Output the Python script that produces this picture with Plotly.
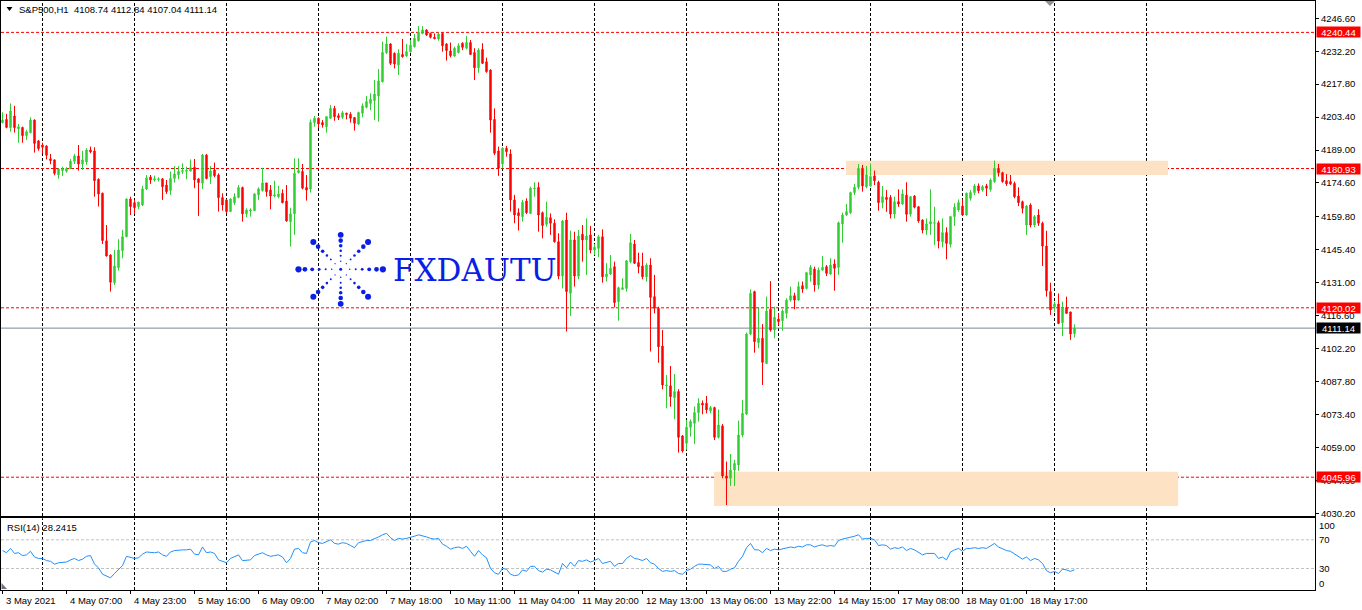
import math
import plotly.graph_objects as go

# ---------------- data ----------------
opens = [
    4201.0, 4202.4, 4198.8, 4203.9, 4198.3, 4198.9, 4195.3, 4196.6, 4202.1, 4193.0,
    4191.2, 4190.8, 4185.2, 4184.7, 4178.2, 4180.0, 4179.7, 4180.9, 4184.1, 4186.4,
    4182.9, 4183.8, 4189.0, 4188.6, 4176.2, 4170.1, 4149.3, 4143.1, 4131.0, 4137.6,
    4145.0, 4151.1, 4167.6, 4166.0, 4164.3, 4165.0, 4172.0, 4177.2, 4175.9, 4176.1,
    4176.4, 4173.7, 4171.3, 4176.6, 4178.2, 4179.6, 4179.7, 4179.8, 4181.5, 4176.4,
    4174.5, 4186.8, 4177.4, 4180.3, 4178.1, 4168.2, 4167.2, 4162.1, 4166.0, 4168.3,
    4172.6, 4161.1, 4162.4, 4162.5, 4169.4, 4171.3, 4174.6, 4171.5, 4168.9, 4168.6,
    4170.1, 4166.7, 4157.7, 4161.1, 4179.1, 4179.6, 4172.6, 4172.0, 4201.0, 4202.9,
    4201.0, 4199.2, 4202.9, 4207.2, 4204.0, 4203.3, 4205.1, 4204.6, 4203.2, 4200.4,
    4205.1, 4207.7, 4209.4, 4210.6, 4212.6, 4218.9, 4231.6, 4235.4, 4231.3, 4226.2,
    4230.8, 4230.1, 4232.0, 4234.2, 4236.8, 4240.0, 4241.5, 4240.0, 4238.3, 4237.6,
    4240.0, 4235.4, 4232.3, 4230.1, 4231.6, 4235.7, 4233.5, 4236.0, 4231.6, 4225.0,
    4233.0, 4227.6, 4224.0, 4202.4, 4188.6, 4182.9, 4189.8, 4187.3, 4167.2, 4161.6,
    4159.9, 4166.7, 4161.3, 4172.0, 4172.7, 4161.6, 4156.5, 4159.4, 4157.0, 4148.9,
    4133.9, 4158.4, 4126.4, 4149.7, 4133.9, 4152.2, 4149.7, 4151.9, 4145.3, 4146.0,
    4151.1, 4133.6, 4134.8, 4138.0, 4122.7, 4128.1, 4128.5, 4140.2, 4147.9, 4139.8,
    4138.3, 4133.6, 4138.7, 4124.9, 4119.8, 4103.3, 4085.9, 4085.9, 4080.7, 4083.4,
    4064.0, 4060.8, 4067.8, 4069.5, 4074.2, 4078.3, 4078.3, 4075.0, 4076.4, 4063.4,
    4068.4, 4046.5, 4045.5, 4049.1, 4051.3, 4064.4, 4073.6, 4108.6, 4127.1, 4104.8,
    4106.7, 4095.7, 4119.4, 4110.3, 4115.1, 4114.4, 4117.6, 4123.4, 4125.3, 4123.4,
    4129.7, 4128.5, 4134.4, 4137.0, 4130.0, 4136.5, 4138.0, 4134.8, 4139.2, 4137.7,
    4156.7, 4160.6, 4161.6, 4170.4, 4172.7, 4181.0, 4173.0, 4173.3, 4177.7, 4174.9,
    4166.0, 4168.3, 4168.3, 4161.0, 4166.4, 4165.4, 4169.3, 4161.0, 4168.9, 4164.2,
    4158.4, 4154.0, 4156.7, 4157.0, 4157.2, 4148.9, 4152.9, 4147.8, 4159.9, 4162.8,
    4164.5, 4160.6, 4167.9, 4170.4, 4173.3, 4171.5, 4173.3, 4171.8, 4175.2, 4181.0,
    4179.1, 4175.6, 4175.2, 4174.4, 4168.9, 4166.4, 4156.2, 4165.0, 4156.2, 4160.6,
    4157.0, 4147.0, 4127.1, 4120.5, 4121.7, 4113.5, 4120.2, 4118.2, 4108.74,
]
highs = [
    4205.5, 4204.8, 4209.4, 4208.3, 4200.4, 4199.2, 4197.8, 4203.3, 4202.4, 4193.4,
    4192.2, 4191.1, 4187.3, 4184.7, 4181.0, 4181.7, 4181.5, 4185.1, 4187.3, 4191.2,
    4188.7, 4189.8, 4190.5, 4190.2, 4176.6, 4170.4, 4156.2, 4143.4, 4145.3, 4150.0,
    4154.1, 4167.9, 4168.6, 4167.2, 4166.4, 4173.3, 4178.1, 4178.1, 4177.8, 4177.1,
    4176.8, 4175.9, 4179.6, 4182.0, 4182.0, 4183.2, 4181.7, 4184.9, 4185.1, 4176.6,
    4187.3, 4187.3, 4182.0, 4183.5, 4178.8, 4170.1, 4167.6, 4167.9, 4170.1, 4173.7,
    4173.0, 4163.5, 4163.5, 4170.1, 4172.7, 4181.3, 4174.6, 4173.7, 4175.6, 4173.3,
    4171.8, 4173.7, 4163.8, 4185.4, 4185.4, 4182.9, 4178.1, 4202.4, 4203.9, 4203.3,
    4202.1, 4203.9, 4208.7, 4208.3, 4205.1, 4206.1, 4205.3, 4205.5, 4203.2, 4205.8,
    4209.4, 4212.6, 4213.8, 4219.6, 4224.4, 4236.4, 4238.6, 4235.7, 4231.7, 4233.0,
    4237.6, 4235.4, 4237.1, 4239.7, 4243.2, 4243.2, 4241.8, 4240.3, 4240.0, 4240.3,
    4240.3, 4235.7, 4236.0, 4234.2, 4235.7, 4236.1, 4238.9, 4237.1, 4233.5, 4233.5,
    4235.7, 4229.4, 4224.3, 4207.2, 4190.5, 4190.2, 4190.8, 4189.3, 4169.4, 4163.5,
    4167.2, 4167.9, 4173.0, 4174.9, 4174.9, 4162.1, 4166.4, 4161.3, 4158.7, 4152.6,
    4158.4, 4161.6, 4153.8, 4153.3, 4154.0, 4156.2, 4159.1, 4155.8, 4147.9, 4151.9,
    4154.3, 4139.5, 4143.1, 4140.2, 4129.3, 4132.9, 4140.9, 4152.3, 4149.7, 4144.1,
    4144.1, 4139.5, 4141.7, 4134.4, 4120.5, 4110.3, 4090.6, 4094.6, 4091.1, 4084.4,
    4064.4, 4071.0, 4071.3, 4076.8, 4080.5, 4079.5, 4081.5, 4077.1, 4076.8, 4075.6,
    4069.2, 4052.8, 4056.1, 4053.5, 4070.7, 4079.7, 4109.2, 4128.1, 4127.5, 4120.2,
    4112.9, 4124.9, 4131.7, 4120.5, 4117.6, 4119.4, 4124.2, 4129.3, 4126.6, 4131.5,
    4131.5, 4135.8, 4138.7, 4138.0, 4137.7, 4142.7, 4138.7, 4141.7, 4141.2, 4157.7,
    4161.6, 4165.4, 4170.8, 4174.2, 4182.9, 4182.5, 4182.0, 4183.2, 4180.0, 4175.6,
    4173.3, 4171.5, 4169.3, 4168.6, 4171.8, 4171.8, 4174.9, 4168.9, 4169.3, 4164.5,
    4158.7, 4159.1, 4171.8, 4164.2, 4158.1, 4159.1, 4155.2, 4160.2, 4165.7, 4167.4,
    4167.4, 4170.4, 4171.5, 4174.2, 4174.4, 4173.7, 4174.2, 4176.6, 4184.4, 4182.9,
    4179.5, 4178.5, 4178.1, 4175.2, 4172.7, 4166.9, 4165.0, 4165.7, 4160.6, 4163.1,
    4157.7, 4153.7, 4131.0, 4122.7, 4126.3, 4122.7, 4124.9, 4118.3, 4112.84,
]
lows = [
    4200.7, 4198.5, 4197.0, 4196.6, 4192.2, 4192.2, 4193.4, 4196.3, 4187.9, 4188.7,
    4187.6, 4184.9, 4182.8, 4178.0, 4176.5, 4177.7, 4179.1, 4180.6, 4182.9, 4180.0,
    4180.3, 4182.5, 4187.6, 4168.6, 4164.3, 4147.9, 4142.4, 4127.1, 4130.0, 4136.3,
    4141.7, 4150.9, 4160.6, 4161.1, 4163.1, 4164.5, 4171.5, 4174.2, 4175.2, 4175.2,
    4167.2, 4169.8, 4169.4, 4174.8, 4176.2, 4178.5, 4176.2, 4179.6, 4172.3, 4160.2,
    4172.0, 4176.2, 4174.2, 4177.1, 4162.1, 4162.5, 4161.3, 4161.9, 4165.0, 4167.9,
    4157.7, 4159.6, 4159.9, 4162.4, 4167.2, 4170.8, 4168.6, 4163.1, 4168.3, 4167.9,
    4165.7, 4157.7, 4146.8, 4151.9, 4178.8, 4171.8, 4166.9, 4170.4, 4199.2, 4198.5,
    4198.8, 4196.6, 4202.6, 4201.8, 4202.1, 4202.6, 4202.4, 4201.0, 4197.5, 4199.9,
    4203.3, 4207.2, 4206.5, 4202.1, 4201.4, 4218.5, 4231.0, 4226.2, 4224.7, 4221.8,
    4229.4, 4229.8, 4231.6, 4233.8, 4236.4, 4239.6, 4238.9, 4237.8, 4237.4, 4236.8,
    4232.0, 4228.1, 4229.5, 4229.8, 4231.3, 4232.7, 4233.0, 4230.6, 4219.6, 4222.8,
    4226.6, 4222.8, 4196.6, 4186.8, 4177.7, 4181.0, 4186.1, 4162.1, 4157.0, 4153.8,
    4157.7, 4161.0, 4161.0, 4168.6, 4153.3, 4150.4, 4155.5, 4151.9, 4148.5, 4132.5,
    4128.5, 4109.6, 4116.5, 4129.3, 4132.5, 4140.2, 4134.4, 4143.8, 4143.1, 4142.1,
    4131.0, 4131.5, 4134.4, 4120.2, 4114.4, 4127.8, 4127.1, 4139.5, 4139.2, 4135.1,
    4132.5, 4131.5, 4100.9, 4117.6, 4096.0, 4084.4, 4076.1, 4076.8, 4071.3, 4056.7,
    4056.7, 4057.9, 4063.7, 4060.5, 4070.3, 4073.5, 4073.9, 4073.9, 4062.2, 4062.9,
    4045.5, 4033.8, 4042.1, 4042.1, 4048.8, 4063.4, 4073.2, 4108.1, 4100.4, 4102.3,
    4086.3, 4095.5, 4109.6, 4106.7, 4112.5, 4110.0, 4115.4, 4122.7, 4119.4, 4123.1,
    4126.6, 4128.1, 4131.5, 4127.1, 4128.1, 4136.3, 4133.9, 4134.4, 4127.5, 4134.4,
    4148.5, 4160.2, 4161.0, 4169.3, 4171.8, 4170.8, 4172.3, 4173.0, 4173.7, 4162.5,
    4163.5, 4162.0, 4159.1, 4159.1, 4164.2, 4165.0, 4157.7, 4159.9, 4163.5, 4157.2,
    4152.6, 4151.9, 4151.9, 4147.5, 4146.0, 4146.4, 4141.2, 4146.4, 4155.8, 4162.0,
    4160.3, 4160.3, 4166.9, 4169.3, 4170.1, 4170.8, 4168.9, 4170.8, 4174.7, 4177.4,
    4174.7, 4173.3, 4173.7, 4167.9, 4164.5, 4161.3, 4151.9, 4155.2, 4155.2, 4155.8,
    4138.3, 4124.9, 4116.9, 4118.3, 4112.9, 4107.7, 4117.3, 4106.0, 4107.04,
]
closes = [
    4202.1, 4198.9, 4206.1, 4198.8, 4199.2, 4195.3, 4197.0, 4202.1, 4191.9, 4189.6,
    4190.2, 4186.7, 4184.4, 4178.8, 4180.7, 4180.9, 4180.9, 4184.1, 4186.4, 4182.9,
    4184.7, 4189.0, 4188.2, 4175.6, 4169.8, 4149.4, 4142.7, 4131.2, 4138.3, 4145.3,
    4151.1, 4167.6, 4164.3, 4163.8, 4166.2, 4172.0, 4176.8, 4175.9, 4176.4, 4176.4,
    4173.0, 4170.8, 4176.6, 4178.5, 4179.6, 4180.0, 4180.1, 4181.3, 4175.9, 4174.8,
    4186.8, 4176.6, 4179.8, 4177.8, 4168.2, 4165.0, 4162.1, 4167.6, 4168.6, 4172.6,
    4161.1, 4162.8, 4162.8, 4169.8, 4172.0, 4174.6, 4170.8, 4168.9, 4169.4, 4169.8,
    4166.0, 4158.0, 4161.1, 4178.8, 4180.0, 4172.3, 4171.5, 4201.1, 4202.9, 4200.4,
    4200.0, 4203.6, 4207.2, 4203.6, 4203.2, 4205.3, 4204.5, 4202.9, 4200.7, 4205.4,
    4208.3, 4210.2, 4211.2, 4213.5, 4219.2, 4231.7, 4235.4, 4226.9, 4226.6, 4231.3,
    4229.8, 4232.0, 4234.9, 4237.8, 4240.5, 4241.5, 4239.3, 4238.3, 4237.7, 4239.7,
    4234.6, 4232.5, 4230.3, 4233.5, 4234.6, 4233.9, 4236.0, 4230.8, 4225.0, 4232.7,
    4226.9, 4223.3, 4202.1, 4187.6, 4181.0, 4189.8, 4188.3, 4167.2, 4160.6, 4160.3,
    4166.1, 4161.6, 4172.3, 4172.3, 4160.6, 4156.0, 4159.6, 4157.0, 4148.9, 4133.9,
    4158.0, 4127.1, 4149.7, 4133.9, 4151.4, 4149.7, 4151.4, 4145.3, 4146.5, 4151.1,
    4133.6, 4134.8, 4137.3, 4122.3, 4128.8, 4128.8, 4140.6, 4148.5, 4139.5, 4138.0,
    4133.6, 4138.7, 4124.6, 4119.8, 4103.0, 4086.3, 4086.3, 4081.2, 4083.4, 4063.4,
    4057.4, 4067.8, 4070.3, 4074.2, 4078.3, 4077.5, 4075.4, 4076.4, 4063.4, 4068.8,
    4046.5, 4045.5, 4049.1, 4052.0, 4064.4, 4073.9, 4108.6, 4126.3, 4105.2, 4106.7,
    4096.2, 4118.6, 4110.3, 4115.9, 4114.0, 4118.6, 4123.4, 4125.3, 4123.4, 4129.3,
    4128.2, 4135.4, 4137.7, 4130.0, 4136.5, 4137.7, 4135.1, 4138.7, 4137.3, 4157.2,
    4160.6, 4162.1, 4170.4, 4172.7, 4181.0, 4173.3, 4178.1, 4177.4, 4175.6, 4166.0,
    4168.6, 4167.4, 4161.0, 4166.4, 4165.4, 4169.8, 4160.9, 4168.6, 4164.0, 4158.0,
    4154.0, 4156.7, 4157.7, 4157.2, 4149.2, 4152.9, 4148.2, 4159.9, 4164.0, 4166.0,
    4160.6, 4170.1, 4170.4, 4173.3, 4171.2, 4173.0, 4172.3, 4175.9, 4181.0, 4179.1,
    4175.2, 4174.2, 4174.2, 4168.6, 4166.0, 4163.5, 4164.5, 4156.2, 4159.9, 4157.0,
    4147.0, 4127.5, 4119.1, 4121.7, 4113.2, 4119.8, 4117.6, 4108.6, 4111.14,
]
rsi_values = [
    55, 52, 58, 51, 52, 48, 49, 54, 46, 44,
    44, 41, 40, 36, 38, 39, 39, 42, 44, 41,
    43, 47, 48, 36, 31, 22, 20, 17, 23, 28,
    34, 47, 45, 44, 45, 50, 53, 52, 52, 53,
    49, 47, 53, 55, 56, 56, 56, 57, 50, 49,
    60, 52, 53, 51, 42, 40, 38, 44, 46, 49,
    41, 42, 42, 48, 50, 52, 49, 47, 48, 49,
    46, 38, 44, 57, 58, 52, 51, 67, 69, 66,
    65, 67, 70, 65, 64, 66, 65, 62, 59, 66,
    68, 69, 69, 71, 74, 77, 79, 73, 69, 72,
    71, 72, 73, 75, 77, 76, 74, 72, 71, 72,
    64, 61, 57, 59, 60, 58, 61, 54, 47, 55,
    49, 45, 30, 24, 22, 30, 29, 22, 20, 21,
    28, 26, 33, 33, 27, 25, 29, 28, 25, 22,
    37, 31, 39, 33, 41, 40, 42, 39, 41, 44,
    37, 38, 40, 33, 37, 37, 44, 48, 44, 43,
    41, 44, 38, 36, 30, 26, 27, 26, 27, 23,
    22, 27, 29, 33, 36, 36, 35, 35, 30, 33,
    26, 26, 29, 31, 40, 47, 59, 65, 56, 56,
    52, 58, 55, 57, 56, 57, 59, 60, 59, 61,
    60, 63, 63, 60, 62, 63, 61, 62, 61, 69,
    71, 72, 74, 75, 77, 71, 72, 72, 70, 62,
    63, 62, 57, 59, 58, 60, 55, 58, 56, 52,
    49, 51, 51, 51, 44, 46, 42, 53, 56, 58,
    54, 58, 58, 59, 58, 59, 58, 61, 65, 60,
    57, 55, 54, 50, 47, 43, 46, 41, 44, 42,
    37, 27, 24, 26, 23, 29, 28, 26, 28.2415,
]
bars = list(range(len(closes)))

x_tick_bars = [0, 16, 32, 48, 64, 80, 96, 112, 128, 144, 160, 176, 192, 208, 224, 240, 256]
x_tick_labels = ["3 May 2021", "4 May 07:00", "4 May 23:00", "5 May 16:00", "6 May 09:00",
                 "7 May 02:00", "7 May 18:00", "10 May 11:00", "11 May 04:00", "11 May 20:00",
                 "12 May 13:00", "13 May 06:00", "13 May 22:00", "14 May 15:00",
                 "17 May 08:00", "18 May 01:00", "18 May 17:00"]
price_ticks = [4246.60, 4232.20, 4217.80, 4203.40, 4189.00, 4174.60, 4159.80, 4145.40,
               4131.00, 4116.60, 4102.20, 4087.80, 4073.40, 4059.00, 4044.60, 4030.20]
level_prices = [4240.44, 4180.93, 4120.02, 4045.96]
bid_price = 4111.14
rsi_levels = [70, 30]
rsi_axis_labels = [100, 70, 30, 0]
grid_first_bar, grid_step, grid_last_bar = 10, 23, 286
zone_top = dict(start=210.9, end=291.4, low=4178.1, high=4184.3)
zone_bottom = dict(start=177.9, end=293.9, low=4033.4, high=4048.4)
symbol_title = "S&amp;P500,H1\u00a0\u00a04108.74 4112.84 4107.04 4111.14"
rsi_title = "RSI(14) 28.2415"
watermark = "FXDAUTU"

# ---------------- styles ----------------
W, H = 1362, 610
PL, PR, PT, PB = 1, 1315, 1, 590          # plot area in pixels
MAIN_BOTTOM_PX, RSI_TOP_PX = 516, 518.3
FONT = "Liberation Sans, Arial, sans-serif"
FS = 9.5
GREEN, RED = "#32cd32", "#ff0000"
LOGO_BLUE = "#0a1ee6"
GRID_DASH = "3px,2px"


def pfx(px):
    return (px - PL) / (PR - PL)


def pfy(py):
    return (PB - py) / (PB - PT)


x_range = [(PL - 2.5) / 4.0, (PR - 2.5) / 4.0]
y_range = [4029.0, 4254.16]

fig = go.Figure()
fig.add_trace(go.Candlestick(
    x=bars, open=opens, high=highs, low=lows, close=closes,
    increasing=dict(line=dict(color=GREEN, width=1), fillcolor=GREEN),
    decreasing=dict(line=dict(color=RED, width=1), fillcolor=RED),
    whiskerwidth=0, xaxis="x", yaxis="y", hoverinfo="skip", showlegend=False,
))
fig.add_trace(go.Scatter(
    x=bars, y=rsi_values, mode="lines", line=dict(color="#1e90ff", width=1),
    xaxis="x2", yaxis="y2", hoverinfo="skip", showlegend=False,
))

shapes = []
for z in (zone_top, zone_bottom):
    shapes.append(dict(type="rect", xref="x", yref="y", x0=z["start"], x1=z["end"],
                       y0=z["low"], y1=z["high"], fillcolor="rgb(253,226,196)",
                       line=dict(width=0), layer="below"))
for b in range(grid_first_bar, grid_last_bar + 1, grid_step):
    for xr, yr in (("x", "y domain"), ("x2", "y2 domain")):
        shapes.append(dict(type="line", xref=xr, yref=yr, x0=b, x1=b, y0=0, y1=1,
                           line=dict(color="black", width=1, dash=GRID_DASH), layer="below"))
for p in level_prices:
    shapes.append(dict(type="line", xref="x domain", yref="y", x0=0, x1=1, y0=p, y1=p,
                       line=dict(color=RED, width=1, dash=GRID_DASH), layer="below"))
shapes.append(dict(type="line", xref="x domain", yref="y", x0=0, x1=1, y0=bid_price, y1=bid_price,
                   line=dict(color="#778899", width=1), layer="below"))
for lv in rsi_levels:
    shapes.append(dict(type="line", xref="x2 domain", yref="y2", x0=0, x1=1, y0=lv, y1=lv,
                       line=dict(color="#c0c0c0", width=1, dash=GRID_DASH), layer="below"))


def tri(points, color):
    path = "M " + " L ".join(f"{pfx(a):.5f},{pfy(b):.5f}" for a, b in points) + " Z"
    return dict(type="path", xref="paper", yref="paper", path=path,
                fillcolor=color, line=dict(width=0), layer="above")


shapes.append(tri([(6.5, 7), (12.5, 7), (9.5, 11)], "black"))
shapes.append(tri([(1045, 1), (1055, 1), (1050, 6)], "#909090"))
shapes.append(tri([(1.5, 583), (1.5, 589), (7, 589)], "#707080"))

# watermark starburst (decoration)
cx, cy = 340.7, 269.3
rays = {
    0: ([9, 15, 21.5, 28.5, 35.8, 42.2], [1.5, 2.0, 2.8, 3.8, 4.8, 6.2]),
    90: ([8, 13.5, 18.5, 23.5, 28.7, 34.5], [1.5, 2.0, 2.6, 3.6, 4.6, 5.8]),
    45: ([8, 14, 19.5, 25.5, 32, 38.7], [1.3, 1.9, 2.6, 3.6, 4.6, 6.0]),
}
for k in range(8):
    ang = k * 45
    base = 0 if ang % 180 == 0 else (90 if ang % 180 == 90 else 45)
    radii, sizes = rays[base]
    for r, d in zip(radii, sizes):
        px = cx + r * math.cos(math.radians(ang))
        py = cy - r * math.sin(math.radians(ang))
        shapes.append(dict(type="circle", xref="paper", yref="paper",
                           x0=pfx(px - d / 2), x1=pfx(px + d / 2),
                           y0=pfy(py + d / 2), y1=pfy(py - d / 2),
                           fillcolor=LOGO_BLUE, line=dict(width=0), layer="below"))
shapes.append(dict(type="circle", xref="paper", yref="paper",
                   x0=pfx(cx - 1.5), x1=pfx(cx + 1.5), y0=pfy(cy + 1.5), y1=pfy(cy - 1.5),
                   fillcolor=LOGO_BLUE, line=dict(width=0), layer="below"))

annotations = []
annotations.append(dict(xref="paper", yref="paper", x=pfx(17), y=pfy(9), xanchor="left",
                        yanchor="middle", text=symbol_title, showarrow=False,
                        font=dict(family=FONT, size=FS, color="black")))
annotations.append(dict(xref="paper", yref="paper", x=pfx(5), y=pfy(527), xanchor="left",
                        yanchor="middle", text=rsi_title, showarrow=False,
                        font=dict(family=FONT, size=FS, color="black")))
annotations.append(dict(xref="paper", yref="paper", x=pfx(391), y=pfy(270), xanchor="left",
                        yanchor="middle", text=watermark, showarrow=False,
                        font=dict(family="DejaVu Serif, serif", size=31, color=LOGO_BLUE)))
for b, lab in zip(x_tick_bars, x_tick_labels):
    annotations.append(dict(xref="x2", yref="paper", x=b, y=0, xanchor="left", yanchor="top",
                            xshift=1, yshift=-3, text=lab, showarrow=False,
                            font=dict(family=FONT, size=FS, color="black")))
rsi_shift = {100: -7, 70: 0, 30: 0, 0: 7}
for v in rsi_axis_labels:
    annotations.append(dict(xref="paper", yref="y2", x=1, y=v, xanchor="left", yanchor="middle",
                            xshift=2, yshift=rsi_shift[v], text=str(v), showarrow=False,
                            font=dict(family=FONT, size=FS, color="black")))
for p in level_prices:
    annotations.append(dict(xref="paper", yref="y", x=1, y=p, xanchor="left", yanchor="middle",
                            xshift=1, text=f"{p:.2f}", showarrow=False, bgcolor=RED,
                            width=43, height=10, borderpad=0,
                            font=dict(family=FONT, size=FS, color="white")))
annotations.append(dict(xref="paper", yref="y", x=1, y=bid_price, xanchor="left", yanchor="middle",
                        xshift=1, text=f"{bid_price:.2f}", showarrow=False, bgcolor="black",
                        width=43, height=10, borderpad=0,
                        font=dict(family=FONT, size=FS, color="white")))

main_bottom = (PB - MAIN_BOTTOM_PX) / (PB - PT)
rsi_top = (PB - RSI_TOP_PX) / (PB - PT)
axis_common = dict(showline=True, mirror=True, linecolor="black", linewidth=1,
                   showgrid=False, zeroline=False)

fig.update_layout(
    width=W, height=H,
    margin=dict(l=PL, r=W - PR, t=PT, b=H - PB, pad=0),
    paper_bgcolor="white", plot_bgcolor="white",
    showlegend=False, hovermode=False, boxgap=0.5,
    font=dict(family=FONT, size=FS, color="black"),
    xaxis=dict(domain=[0, 1], anchor="y", range=x_range, showticklabels=False, ticks="",
               rangeslider=dict(visible=False), fixedrange=True, **axis_common),
    yaxis=dict(domain=[main_bottom, 1], anchor="x", range=y_range, side="right",
               tickvals=price_ticks, ticktext=[f"{v:.2f}" for v in price_ticks],
               ticks="outside", ticklen=3, tickcolor="black", tickwidth=1,
               tickfont=dict(family=FONT, size=FS, color="black"), fixedrange=True,
               **axis_common),
    xaxis2=dict(domain=[0, 1], anchor="y2", range=x_range, tickvals=x_tick_bars,
                ticks="outside", ticklen=3, tickcolor="black", showticklabels=False,
                fixedrange=True, **axis_common),
    yaxis2=dict(domain=[0, rsi_top], anchor="x2", range=[0, 100], side="right",
                ticks="", showticklabels=False, fixedrange=True, **axis_common),
    shapes=shapes, annotations=annotations,
)

fig.write_html("out.html", config={"displayModeBar": False, "staticPlot": True},
               post_script="document.body.style.margin='0';document.body.style.overflow='hidden';")
